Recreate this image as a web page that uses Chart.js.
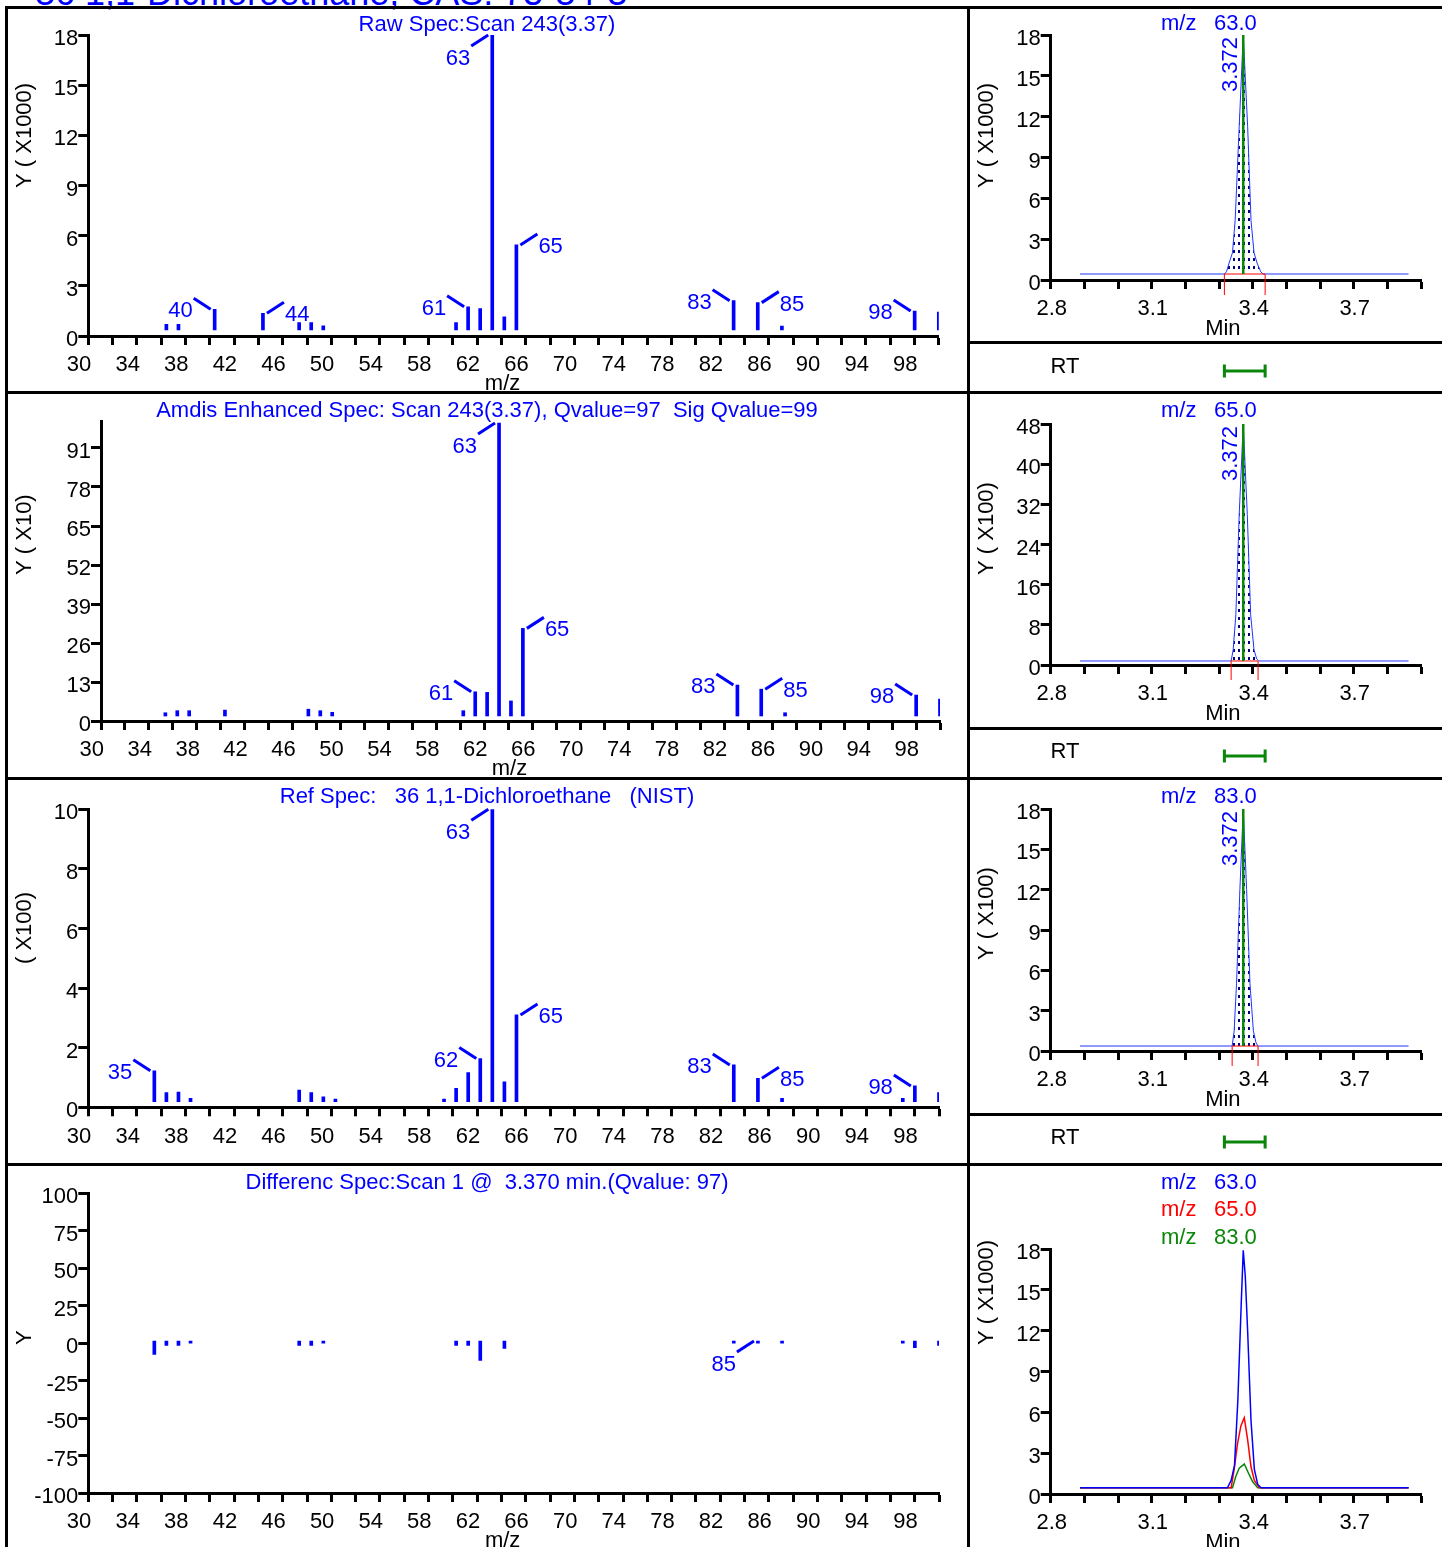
<!DOCTYPE html>
<html>
<head>
<meta charset="utf-8">
<script src="https://cdn.jsdelivr.net/npm/chart.js@4.4.1/dist/chart.umd.min.js"></script>
<style>
  body { margin: 0; width: 1442px; height: 1547px; overflow: hidden; position: relative; background: #fff;
         font-family: "Liberation Sans", Arial, sans-serif; }
  canvas { position: absolute; }
  .ln { position: absolute; background: #000; z-index: 5; }
  #head { position: absolute; left: 35px; top: -25px; font-size: 36px; line-height: 36px; color: #0000ff; white-space: nowrap; }
</style>
</head>
<body>
<div id="head">36 1,1-Dichloroethane, CAS: 75-34-3</div>

<canvas id="s1" width="966" height="383" style="left:0;top:8px"></canvas>
<canvas id="s2" width="966" height="386" style="left:0;top:391px"></canvas>
<canvas id="s3" width="966" height="386" style="left:0;top:777px"></canvas>
<canvas id="s4" width="966" height="384" style="left:0;top:1163px"></canvas>
<canvas id="c1" width="475" height="383" style="left:967px;top:8px"></canvas>
<canvas id="c2" width="475" height="386" style="left:967px;top:391px"></canvas>
<canvas id="c3" width="475" height="386" style="left:967px;top:777px"></canvas>
<canvas id="c4" width="475" height="384" style="left:967px;top:1163px"></canvas>

<div class="ln" style="left:5px;top:6px;width:1437px;height:3px"></div>
<div class="ln" style="left:5px;top:6px;width:3px;height:1541px"></div>
<div class="ln" style="left:967px;top:6px;width:3px;height:1541px"></div>
<div class="ln" style="left:5px;top:391px;width:1437px;height:3px"></div>
<div class="ln" style="left:5px;top:777px;width:1437px;height:3px"></div>
<div class="ln" style="left:5px;top:1163px;width:1437px;height:3px"></div>
<div class="ln" style="left:967px;top:341px;width:475px;height:3px"></div>
<div class="ln" style="left:967px;top:727px;width:475px;height:3px"></div>
<div class="ln" style="left:967px;top:1113px;width:475px;height:3px"></div>

<script>
// spectra (m/z, intensity in the panel's own units)
const rawMz  = [36, 37, 40, 44, 47, 48, 49, 60, 61, 62, 63, 64, 65, 83, 85, 87, 98, 100];
const rawVal = [0.35, 0.35, 1.26, 1.02, 0.45, 0.45, 0.26, 0.45, 1.42, 1.30, 18, 0.81, 5.19, 1.79, 1.67, 0.24, 1.16, 1.10];
const rawPeaks = [[40, 'ul'], [44, 'ur'], [61, 'ul'], [63, 'dl'], [65, 'ur'], [83, 'ul'], [85, 'ur'], [98, 'ul']];

const amdisMz  = [35, 36, 37, 40, 47, 48, 49, 60, 61, 62, 63, 64, 65, 83, 85, 87, 98, 100];
const amdisVal = [1.1, 1.8, 1.8, 2.0, 2.3, 1.8, 1.25, 1.8, 8.2, 8.0, 99.3, 5.1, 29.7, 10.5, 9.1, 1.1, 7.1, 5.7];
const amdisPeaks = [[61, 'ul'], [63, 'dl'], [65, 'ur'], [83, 'ul'], [85, 'ur'], [98, 'ul']];

const refMz  = [35, 36, 37, 38, 47, 48, 49, 50, 59, 60, 61, 62, 63, 64, 65, 83, 85, 87, 97, 98, 100];
const refVal = [1.06, 0.31, 0.33, 0.12, 0.40, 0.31, 0.17, 0.09, 0.09, 0.46, 1.0, 1.48, 10, 0.68, 2.97, 1.26, 0.80, 0.12, 0.12, 0.54, 0.31];
const refPeaks = [[35, 'ul'], [62, 'ul'], [63, 'dl'], [65, 'ur'], [83, 'ul'], [85, 'ur'], [98, 'ul']];

const diffMz  = [35, 36, 37, 38, 47, 48, 49, 60, 61, 62, 64, 83, 85, 87, 97, 98, 100];
const diffVal = [-9, -3, -3, -1.5, -3, -3, -1.5, -3, -3, -13, -5, -1.5, -1.5, -1.5, -1.5, -4.5, -3];
const diffPeaks = [[85, 'dl']];

const mzTickLabels = ['30', '34', '38', '42', '46', '50', '54', '58', '62', '66', '70', '74', '78', '82', '86', '90', '94', '98'];
const minTickLabels = ['2.8', '3.1', '3.4', '3.7'];

// ion chromatograms, one pair per panel
const xic63Time = [2.887, 3.316, 3.322, 3.330, 3.340, 3.348, 3.360, 3.372, 3.385, 3.395, 3.404, 3.413, 3.424, 3.431, 3.863];
const xic63Val  = [0.44, 0.44, 0.6, 1.25, 2.0, 4.4, 11.3, 18, 11.3, 4.4, 2.0, 1.25, 0.6, 0.44, 0.44];
const xic65Time = [2.887, 3.336, 3.342, 3.350, 3.360, 3.372, 3.384, 3.394, 3.404, 3.412, 3.418, 3.863];
const xic65Val  = [0.8, 0.8, 3, 10, 30, 48, 30, 10, 3, 1.2, 0.8, 0.8];
const xic83Time = [2.887, 3.339, 3.345, 3.352, 3.362, 3.372, 3.382, 3.392, 3.402, 3.410, 3.416, 3.863];
const xic83Val  = [0.37, 0.37, 1.5, 5, 12, 18, 12, 5, 1.5, 0.6, 0.37, 0.37];

const ov63Time = [2.887, 3.325, 3.336, 3.346, 3.356, 3.366, 3.372, 3.378, 3.385, 3.395, 3.405, 3.415, 3.425, 3.863];
const ov63Val  = [0.46, 0.46, 1.0, 2.1, 6.9, 14, 17.9, 16, 12, 5.4, 1.8, 0.7, 0.46, 0.46];
const ov65Time = [2.887, 3.336, 3.345, 3.355, 3.365, 3.375, 3.385, 3.395, 3.405, 3.420, 3.863];
const ov65Val  = [0.46, 0.46, 1.8, 3.7, 5.0, 5.6, 4.0, 2.0, 1.0, 0.46, 0.46];
const ov83Time = [2.887, 3.340, 3.350, 3.360, 3.375, 3.390, 3.400, 3.415, 3.863];
const ov83Val  = [0.46, 0.46, 1.3, 1.9, 2.2, 1.4, 0.9, 0.46, 0.46];

const peakRT = 3.372;
const rtWindow = [3.316, 3.437];
const integ63 = [3.316, 3.437];
const integ65 = [3.336, 3.416];
const integ83 = [3.339, 3.416];

const BLUE = '#0000ff', RED = '#ff0000', GREEN = '#0a870a', NAVY = '#000080';
const FONT = '"Liberation Sans", Arial, sans-serif';
const FS = 22;
const font = s => `${s}px ${FONT}`;

Chart.defaults.font.family = FONT;
Chart.defaults.font.size = FS;
Chart.defaults.color = '#000';

const pts = (xs, ys) => xs.map((x, i) => ({ x, y: ys[i] }));

function xAxis(min, max, step, labels, fmt, box, H, align, shift) {
  return {
    type: 'linear', position: 'bottom', min, max, offset: false,
    afterFit: s => { s.height = H - box.b; },
    border: { display: true, color: '#000', width: 3 },
    grid: { offset: false, drawOnChartArea: false, drawTicks: true, tickLength: 9, tickWidth: 3, tickColor: '#000' },
    ticks: {
      stepSize: step, autoSkip: false, maxRotation: 0, minRotation: 0, padding: 7, align, labelOffset: shift,
      callback: v => { const s = fmt(v); return labels.includes(s) ? s : ''; }
    }
  };
}

function yAxis(min, max, step, box) {
  return {
    type: 'linear', position: 'left', min, max,
    afterFit: s => { s.width = box.l; },
    border: { display: true, color: '#000', width: 3 },
    grid: { drawOnChartArea: false, drawTicks: true, tickLength: 10, tickWidth: 3, tickColor: '#000' },
    ticks: { stepSize: step, includeBounds: false, autoSkip: false, padding: 0, labelOffset: 4 }
  };
}

function rotText(ctx, text, x, y, align) {
  ctx.save();
  ctx.translate(x, y);
  ctx.rotate(-Math.PI / 2);
  ctx.textAlign = align;
  ctx.textBaseline = 'middle';
  ctx.fillText(text, 0, 0);
  ctx.restore();
}

function specDecor(cfg) {
  return {
    id: 'specDecor',
    afterDatasetsDraw(chart) {
      const { ctx, chartArea: a } = chart;
      const xs = chart.scales.xb, ys = chart.scales.yb;
      ctx.save();
      ctx.font = font(FS);
      ctx.fillStyle = BLUE;
      ctx.textAlign = 'center';
      ctx.textBaseline = 'middle';
      ctx.fillText(cfg.title, 487, cfg.titleY);

      // peak labels with leader lines
      ctx.strokeStyle = BLUE;
      ctx.lineWidth = 3;
      cfg.peaks.forEach(([m, dir]) => {
        const v = cfg.val[cfg.mz.indexOf(m)];
        const x = xs.getPixelForValue(m);
        const y = ys.getPixelForValue(Math.max(v, 0));
        const sx = dir[1] === 'l' ? -1 : 1;
        const sy = dir[0] === 'u' ? -1 : 1;
        const x1 = x + sx * 21, y1 = y + sy * 11;
        ctx.beginPath();
        ctx.moveTo(x + sx * 4, y);
        ctx.lineTo(x1, y1);
        ctx.stroke();
        ctx.textAlign = sx < 0 ? 'right' : 'left';
        ctx.textBaseline = 'top';
        ctx.fillText(String(m), x1 + sx, y1 + 2);
      });

      ctx.fillStyle = '#000';
      rotText(ctx, cfg.yTitle, 25, cfg.yTitleY, 'left');
      if (cfg.xTitle) {
        ctx.textAlign = 'center';
        ctx.textBaseline = 'middle';
        ctx.fillText('m/z', (a.left + a.right) / 2 - 11, a.bottom + 48);
      }
      ctx.restore();
    }
  };
}

function makeSpec(id, mz, val, peaks, cfg) {
  const cv = document.getElementById(id);
  const W = cv.width, H = cv.height, box = cfg.box;
  return new Chart(cv, {
    type: 'bar',
    data: {
      datasets: [{
        data: pts(mz, val), xAxisID: 'xb', yAxisID: 'yb',
        backgroundColor: BLUE, borderWidth: 0, barThickness: 3
      }]
    },
    options: {
      responsive: false, animation: false, events: [],
      layout: { autoPadding: false, padding: { left: 0, top: box.t, right: W - box.r, bottom: 0 } },
      plugins: { legend: { display: false }, tooltip: { enabled: false } },
      scales: {
        x: xAxis(30, 100, 2, mzTickLabels, v => String(Math.round(v)), box, H, 'end', 3),
        y: yAxis(cfg.yMin, cfg.yMax, cfg.yStep, box),
        xb: { type: 'linear', display: false, offset: false, grid: { offset: false }, min: cfg.barX0, max: 100 },
        yb: { type: 'linear', display: false, min: cfg.barMin, max: cfg.barMax }
      }
    },
    plugins: [specDecor(Object.assign({ mz, val, peaks }, cfg))]
  });
}

function dotPattern() {
  const c = document.createElement('canvas');
  c.width = 5; c.height = 8;
  const g = c.getContext('2d');
  g.fillStyle = NAVY;
  g.fillRect(1, 2, 2, 3);
  return g.createPattern(c, 'repeat');
}

function chromDecor(cfg) {
  return {
    id: 'chromDecor',
    afterDatasetsDraw(chart) {
      const { ctx, chartArea: a } = chart;
      const xs = chart.scales.x, ys = chart.scales.y;
      ctx.save();
      ctx.font = font(FS);
      ctx.textBaseline = 'middle';
      ctx.textAlign = 'left';
      cfg.ions.forEach((ion, i) => {
        ctx.fillStyle = cfg.ionColors[i];
        ctx.fillText('m/z', 194, cfg.ionY[i]);
        ctx.fillText(ion, 247, cfg.ionY[i]);
      });

      if (cfg.integ) {
        const yb = ys.getPixelForValue(cfg.base);
        const x0 = xs.getPixelForValue(cfg.integ[0]), x1 = xs.getPixelForValue(cfg.integ[1]);
        ctx.strokeStyle = RED;
        ctx.lineWidth = 1;
        ctx.beginPath();
        ctx.moveTo(x0, a.bottom + 15); ctx.lineTo(x0, yb); ctx.lineTo(x1, yb); ctx.lineTo(x1, a.bottom + 15);
        ctx.stroke();

        const xr = xs.getPixelForValue(peakRT);
        ctx.strokeStyle = GREEN;
        ctx.lineWidth = 2.5;
        ctx.beginPath();
        ctx.moveTo(xr, a.top); ctx.lineTo(xr, yb);
        ctx.stroke();
        ctx.fillStyle = BLUE;
        rotText(ctx, peakRT.toFixed(3), xr - 12, a.top + 2, 'right');

        // RT strip under the plot
        ctx.fillStyle = '#000';
        ctx.textAlign = 'center';
        ctx.fillText('RT', 98, a.bottom + 87);
        const r0 = xs.getPixelForValue(rtWindow[0]), r1 = xs.getPixelForValue(rtWindow[1]);
        const yr = a.bottom + 91;
        ctx.strokeStyle = GREEN;
        ctx.lineWidth = 3;
        ctx.beginPath();
        ctx.moveTo(r0, yr); ctx.lineTo(r1, yr);
        ctx.moveTo(r0, yr - 6.5); ctx.lineTo(r0, yr + 6.5);
        ctx.moveTo(r1, yr - 6.5); ctx.lineTo(r1, yr + 6.5);
        ctx.stroke();
      }

      ctx.fillStyle = '#000';
      rotText(ctx, cfg.yTitle, 20, cfg.yTitleY, 'left');
      ctx.textAlign = 'center';
      ctx.textBaseline = 'middle';
      ctx.fillText('Min', (a.left + a.right) / 2 - 13, a.bottom + 49);
      ctx.restore();
    }
  };
}

function makeChrom(id, datasets, cfg) {
  const cv = document.getElementById(id);
  const W = cv.width, H = cv.height, box = cfg.box;
  return new Chart(cv, {
    type: 'line',
    data: { datasets },
    options: {
      responsive: false, animation: false, events: [],
      layout: { autoPadding: false, padding: { left: 0, top: box.t, right: W - box.r, bottom: 0 } },
      plugins: { legend: { display: false }, tooltip: { enabled: false } },
      elements: { point: { radius: 0 }, line: { tension: 0 } },
      scales: {
        x: xAxis(2.8, 3.9, 0.1, minTickLabels, v => v.toFixed(1), box, H, 'center', 1),
        y: yAxis(0, cfg.yMax, cfg.yStep, box)
      }
    },
    plugins: [chromDecor(cfg)]
  });
}

// left column: spectra
makeSpec('s1', rawMz, rawVal, rawPeaks, {
  box: { l: 88.3, r: 938.8, t: 27, b: 328 }, yMin: 0, yMax: 18, yStep: 3, barX0: 29.53, barMin: -0.366, barMax: 18,
  title: 'Raw Spec:Scan 243(3.37)', titleY: 17, yTitle: 'Y ( X1000)', yTitleY: 180, xTitle: true
});
makeSpec('s2', amdisMz, amdisVal, amdisPeaks, {
  box: { l: 101, r: 940, t: 30, b: 330 }, yMin: 0, yMax: 100, yStep: 13, barX0: 29.6, barMin: -1.7, barMax: 100,
  title: 'Amdis Enhanced Spec: Scan 243(3.37), Qvalue=97  Sig Qvalue=99', titleY: 20, yTitle: 'Y ( X10)', yTitleY: 184, xTitle: true
});
makeSpec('s3', refMz, refVal, refPeaks, {
  box: { l: 88.3, r: 939, t: 32.3, b: 330.3 }, yMin: 0, yMax: 10, yStep: 2, barX0: 29.53, barMin: -0.19, barMax: 10,
  title: 'Ref Spec:   36 1,1-Dichloroethane   (NIST)', titleY: 20, yTitle: '( X100)', yTitleY: 187, xTitle: false
});
makeSpec('s4', diffMz, diffVal, diffPeaks, {
  box: { l: 88.3, r: 939, t: 30, b: 330 }, yMin: -100, yMax: 100, yStep: 25, barX0: 29.53, barMin: -101.33, barMax: 98.67,
  title: 'Differenc Spec:Scan 1 @  3.370 min.(Qvalue: 97)', titleY: 20, yTitle: 'Y', yTitleY: 182, xTitle: true
});

// right column: ion chromatograms
const dots = dotPattern();
const xicSet = (t, v, base) => ({
  data: pts(t, v), borderColor: '#1f35ff', borderWidth: 1, fill: { value: base }, backgroundColor: dots
});

makeChrom('c1', [xicSet(xic63Time, xic63Val, 0.44)], {
  box: { l: 83.7, r: 454, t: 27, b: 272 }, yMax: 18, yStep: 3, base: 0.44, integ: integ63,
  ions: ['63.0'], ionColors: [BLUE], ionY: [16], yTitle: 'Y ( X1000)', yTitleY: 180
});
makeChrom('c2', [xicSet(xic65Time, xic65Val, 0.8)], {
  box: { l: 83.7, r: 454, t: 33, b: 274 }, yMax: 48, yStep: 8, base: 0.8, integ: integ65,
  ions: ['65.0'], ionColors: [BLUE], ionY: [20], yTitle: 'Y ( X100)', yTitleY: 184
});
makeChrom('c3', [xicSet(xic83Time, xic83Val, 0.37)], {
  box: { l: 83.7, r: 454, t: 32, b: 274 }, yMax: 18, yStep: 3, base: 0.37, integ: integ83,
  ions: ['83.0'], ionColors: [BLUE], ionY: [20], yTitle: 'Y ( X100)', yTitleY: 183
});
makeChrom('c4', [
  { data: pts(ov63Time, ov63Val), borderColor: BLUE, borderWidth: 1.5, fill: false },
  { data: pts(ov65Time, ov65Val), borderColor: RED, borderWidth: 1.5, fill: false },
  { data: pts(ov83Time, ov83Val), borderColor: GREEN, borderWidth: 1.5, fill: false }
], {
  box: { l: 83.7, r: 454, t: 86, b: 331 }, yMax: 18, yStep: 3, integ: null,
  ions: ['63.0', '65.0', '83.0'], ionColors: [BLUE, RED, GREEN], ionY: [20, 47, 75], yTitle: 'Y ( X1000)', yTitleY: 182
});
</script>
</body>
</html>
